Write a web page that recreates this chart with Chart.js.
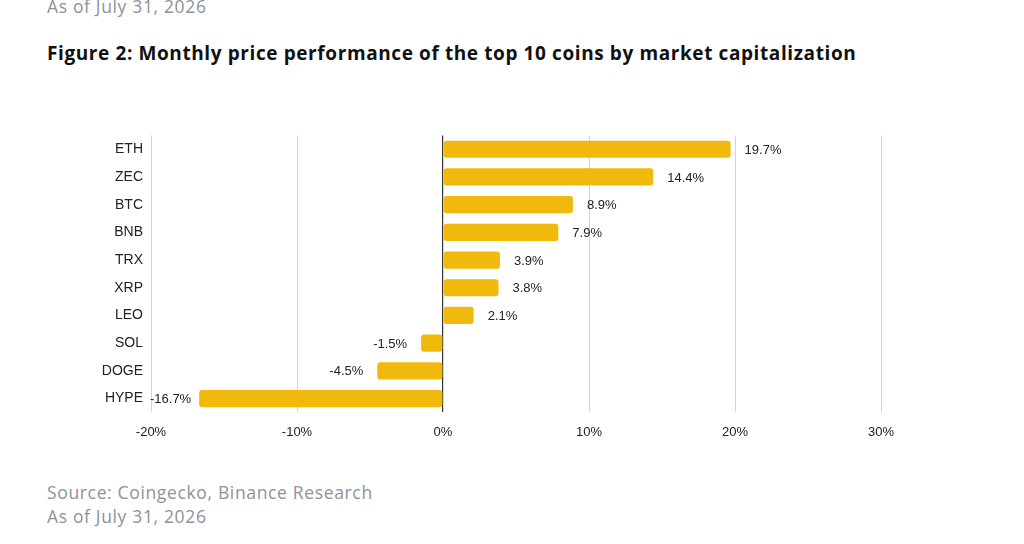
<!DOCTYPE html>
<html>
<head>
<meta charset="utf-8">
<script src="https://cdn.jsdelivr.net/npm/chart.js@4"></script>
<style>
  html, body { margin: 0; padding: 0; background: #fff; }
  body { width: 1024px; height: 544px; position: relative; overflow: hidden; font-family: 'Open Sans', sans-serif; }
  .note { position: absolute; left: 47px; color: #8e929b; font-size: 17.5px; letter-spacing: 0.65px; font-family: 'Open Sans', sans-serif; white-space: nowrap; }
  .title { position: absolute; left: 47px; top: 40px; font-size: 19px; letter-spacing: 0.6px; font-weight: 700; color: #111; white-space: nowrap; font-family: 'Open Sans', sans-serif; }
  .wrap { position: absolute; left: 0; top: 119px; width: 1024px; height: 337px; }
</style>
</head>
<body>
<div class="note" style="top:-6px">As of July 31, 2026</div>
<div class="title">Figure 2: Monthly price performance of the top 10 coins by market capitalization</div>
<div class="wrap"><canvas class="js-chart"></canvas></div>
<div class="note" style="top:480px">Source: Coingecko, Binance Research</div>
<div class="note" style="top:504px">As of July 31, 2026</div>
<script>
const coins = ['ETH', 'ZEC', 'BTC', 'BNB', 'TRX', 'XRP', 'LEO', 'SOL', 'DOGE', 'HYPE'];
const changes = [19.7, 14.4, 8.9, 7.9, 3.9, 3.8, 2.1, -1.5, -4.5, -16.7];
const axisTicks = [-20, -10, 0, 10, 20, 30];

// value labels next to each bar end
const barLabels = {
  id: 'barLabels',
  afterDatasetsDraw(chart) {
    const { ctx } = chart;
    const meta = chart.getDatasetMeta(0);
    ctx.save();
    ctx.font = '13px "Liberation Sans", Arial, sans-serif';
    ctx.fillStyle = '#222';
    ctx.textBaseline = 'middle';
    meta.data.forEach((bar, i) => {
      const v = changes[i];
      const txt = v.toFixed(1) + '%';
      if (v >= 0) {
        ctx.textAlign = 'left';
        ctx.fillText(txt, bar.x + 14, bar.y + 1);
      } else {
        ctx.textAlign = 'right';
        ctx.fillText(txt, bar.x - (v < -10 ? 8 : 14), bar.y + 1);
      }
    });
    ctx.restore();
  },
};

const ctx = document.querySelector('.js-chart').getContext('2d');
const chart = new Chart(ctx, {
  type: 'bar',
  data: {
    labels: coins,
    datasets: [{
      data: changes,
      backgroundColor: '#F0B90B',
      borderRadius: 3,
      borderSkipped: false,
      categoryPercentage: 1,
      barPercentage: 0.62,
    }],
  },
  plugins: [barLabels],
  options: {
    indexAxis: 'y',
    responsive: true,
    maintainAspectRatio: false,
    animation: false,
    layout: { padding: { top: 3, right: 143, bottom: 4, left: 0 } },
    plugins: {
      legend: { display: false },
      tooltip: { enabled: false },
    },
    scales: {
      x: {
        min: axisTicks[0],
        max: axisTicks[axisTicks.length - 1],
        afterBuildTicks(scale) {
          scale.ticks = axisTicks.map((v) => ({ value: v }));
        },
        border: { display: false },
        grid: {
          drawTicks: false,
          color: (c) => (c.tick && c.tick.value === 0 ? '#333' : '#d4d4d4'),
          lineWidth: (c) => (c.tick && c.tick.value === 0 ? 1.2 : 1),
        },
        ticks: {
          padding: 12,
          color: '#222',
          font: { family: '"Liberation Sans", Arial, sans-serif', size: 13 },
          callback: (v) => v + '%',
        },
      },
      y: {
        afterFit(scale) { scale.width = 151; },
        border: { display: false },
        grid: { display: false, drawTicks: false },
        ticks: {
          padding: 8,
          color: '#222',
          font: { family: '"Liberation Sans", Arial, sans-serif', size: 14 },
        },
      },
    },
  },
});
</script>
</body>
</html>
